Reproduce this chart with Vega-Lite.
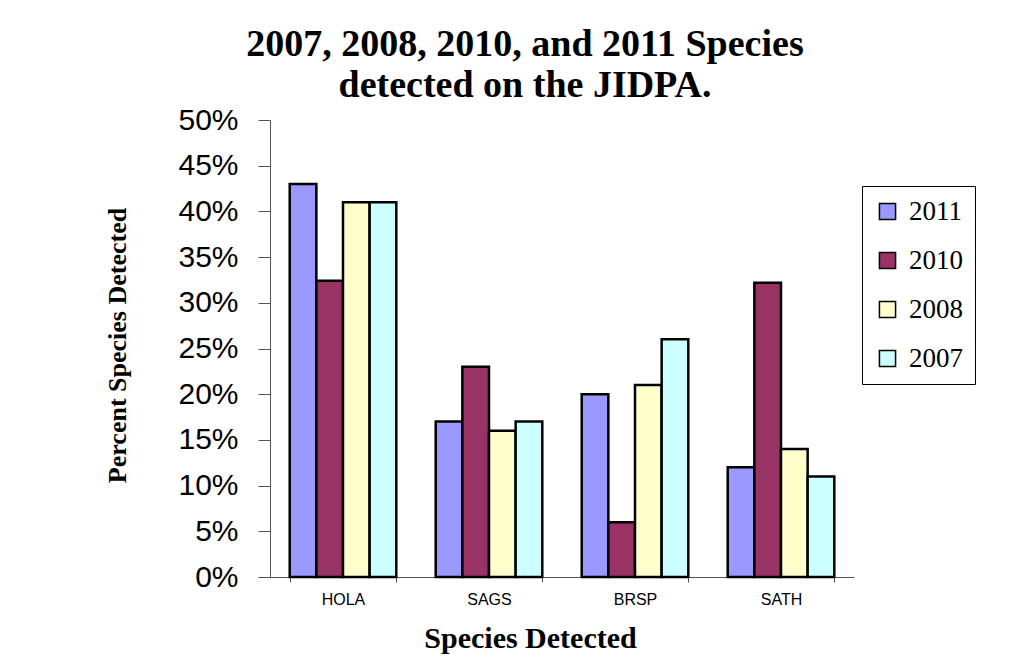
{
  "$schema": "https://vega.github.io/schema/vega-lite/v6.json",
  "autosize": "none",
  "width": 584,
  "height": 457,
  "padding": {"left": 270, "top": 120, "right": 158, "bottom": 90},
  "background": "white",
  "title": {
    "text": ["2007, 2008, 2010, and 2011 Species", "detected on the JIDPA."],
    "font": "Liberation Serif",
    "fontSize": 38,
    "fontWeight": "bold",
    "color": "black",
    "anchor": "middle",
    "dx": -37,
    "lineHeight": 41,
    "offset": 0
  },
  "data": {
    "values": [
      {"species": "HOLA", "year": "2011", "pct": 0.43},
      {"species": "HOLA", "year": "2010", "pct": 0.324},
      {"species": "HOLA", "year": "2008", "pct": 0.41},
      {"species": "HOLA", "year": "2007", "pct": 0.41},
      {"species": "SAGS", "year": "2011", "pct": 0.17},
      {"species": "SAGS", "year": "2010", "pct": 0.23},
      {"species": "SAGS", "year": "2008", "pct": 0.16},
      {"species": "SAGS", "year": "2007", "pct": 0.17},
      {"species": "BRSP", "year": "2011", "pct": 0.20},
      {"species": "BRSP", "year": "2010", "pct": 0.06},
      {"species": "BRSP", "year": "2008", "pct": 0.21},
      {"species": "BRSP", "year": "2007", "pct": 0.26},
      {"species": "SATH", "year": "2011", "pct": 0.12},
      {"species": "SATH", "year": "2010", "pct": 0.322},
      {"species": "SATH", "year": "2008", "pct": 0.14},
      {"species": "SATH", "year": "2007", "pct": 0.11}
    ]
  },
  "mark": {"type": "bar", "stroke": "black", "strokeWidth": 2.5},
  "encoding": {
    "x": {
      "field": "species",
      "type": "nominal",
      "sort": ["HOLA", "SAGS", "BRSP", "SATH"],
      "scale": {"paddingInner": 0.27, "paddingOuter": 0.135},
      "axis": {
        "title": "Species Detected",
        "titleFont": "Liberation Serif",
        "titleFontSize": 30,
        "titleFontWeight": "bold",
        "titleColor": "black",
        "titlePadding": 16,
        "titleX": 260,
        "titleAlign": "center",
        "labelFont": "Liberation Sans",
        "labelFontSize": 16,
        "labelColor": "black",
        "labelAngle": 0,
        "labelPadding": 9,
        "tickBand": "extent",
        "tickSize": 5,
        "tickColor": "#555555",
        "domainColor": "#555555"
      }
    },
    "xOffset": {"field": "year", "type": "nominal", "sort": ["2011", "2010", "2008", "2007"], "scale": {"paddingInner": 0, "paddingOuter": 0}},
    "y": {
      "field": "pct",
      "type": "quantitative",
      "scale": {"domain": [0, 0.5]},
      "axis": {
        "format": "%",
        "values": [0, 0.05, 0.1, 0.15, 0.2, 0.25, 0.3, 0.35, 0.4, 0.45, 0.5],
        "grid": false,
        "title": "Percent Species Detected",
        "titleFont": "Liberation Serif",
        "titleFontSize": 26,
        "titleFontWeight": "bold",
        "titleColor": "black",
        "titlePadding": 47,
        "titleY": 225,
        "titleAlign": "center",
        "labelFont": "Liberation Sans",
        "labelFontSize": 30,
        "labelColor": "black",
        "labelPadding": 20,
        "tickSize": 12,
        "tickColor": "#555555",
        "domainColor": "#555555"
      }
    },
    "color": {
      "field": "year",
      "type": "nominal",
      "sort": ["2011", "2010", "2008", "2007"],
      "scale": {"domain": ["2011", "2010", "2008", "2007"], "range": ["#9999FF", "#993366", "#FFFFCC", "#CCFFFF"]},
      "legend": {
        "title": null,
        "orient": "none",
        "legendX": 592,
        "legendY": 66,
        "symbolType": "square",
        "symbolSize": 260,
        "symbolStrokeColor": "black",
        "symbolStrokeWidth": 1.5,
        "labelFont": "Liberation Serif",
        "labelFontSize": 27,
        "labelColor": "black",
        "rowPadding": 21,
        "padding": 12,
        "strokeColor": "black",
        "fillColor": "white",
        "labelOffset": 8
      }
    }
  },
  "config": {
    "view": {"stroke": null},
    "axis": {"domainWidth": 1, "tickWidth": 1}
  }
}
